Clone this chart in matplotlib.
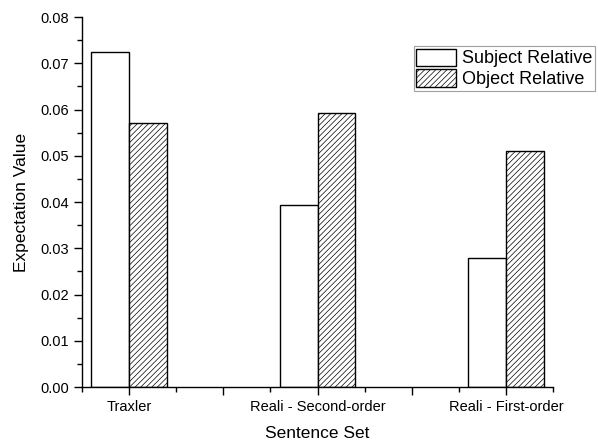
import numpy as np
import matplotlib
matplotlib.use('Agg')
import matplotlib.pyplot as plt
from matplotlib.ticker import MultipleLocator

plt.rcParams['font.family'] = ['Liberation Sans', 'DejaVu Sans']
plt.rcParams['hatch.color'] = '#666666'
plt.rcParams['hatch.linewidth'] = 0.5

categories = ['Traxler', 'Reali - Second-order', 'Reali - First-order']
subject_rel = [0.0724, 0.0394, 0.0280]
object_rel = [0.0570, 0.0592, 0.0510]

fig = plt.figure(figsize=(5.98, 4.42), dpi=100)
ax = fig.add_axes([0.137, 0.1244, 0.788, 0.837])

pos = np.array([1, 3, 5])
width = 0.4
ax.bar(pos - width / 2, subject_rel, width, color='white', edgecolor='black',
       linewidth=1.0, label='Subject Relative')
ax.bar(pos + width / 2, object_rel, width, color='white', edgecolor='black',
       linewidth=1.0, hatch='//////', label='Object Relative')

ax.set_xlim(0.5, 5.5)
ax.set_ylim(0, 0.08)
ax.set_xticks([1, 2, 3, 4, 5])
ax.set_xticklabels([categories[0], '', categories[1], '', categories[2]])
ax.xaxis.set_minor_locator(MultipleLocator(0.5))
ax.yaxis.set_major_locator(MultipleLocator(0.01))
ax.yaxis.set_minor_locator(MultipleLocator(0.005))
ax.yaxis.set_major_formatter(matplotlib.ticker.FormatStrFormatter('%.2f'))

for s in ['top', 'right']:
    ax.spines[s].set_visible(False)
for s in ['left', 'bottom']:
    ax.spines[s].set_linewidth(1.0)

ax.tick_params(which='major', direction='out', length=6, width=1.0, labelsize=10.5)
ax.tick_params(which='minor', direction='out', length=3.5, width=1.0)
ax.tick_params(axis='x', which='major', pad=3)

ax.set_xlabel('Sentence Set', fontsize=12.5, labelpad=9)
ax.set_ylabel('Expectation Value', fontsize=12.5, labelpad=8)

leg = ax.legend(loc='upper right', bbox_to_anchor=(1.088, 0.922), fontsize=13,
                frameon=True, fancybox=False, edgecolor='#888888',
                borderpad=0.15, labelspacing=0.1, handlelength=2.2,
                handleheight=1.1, handletextpad=0.3, borderaxespad=0)
leg.get_frame().set_linewidth(0.8)

fig.savefig('out.png', dpi=100)
